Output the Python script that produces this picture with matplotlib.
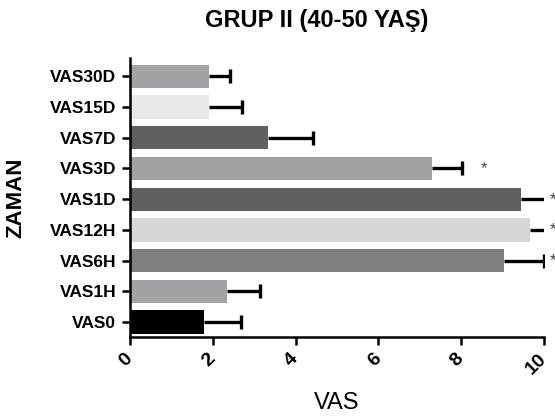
import matplotlib
matplotlib.use("Agg")
import matplotlib.pyplot as plt
import numpy as np

categories = ["VAS0", "VAS1H", "VAS6H", "VAS12H", "VAS1D", "VAS3D", "VAS7D", "VAS15D", "VAS30D"]
means = [1.78, 2.34, 9.04, 9.65, 9.44, 7.30, 3.34, 1.91, 1.91]
errors = [0.90, 0.81, 0.96, 0.65, 0.80, 0.72, 1.07, 0.79, 0.51]
colors = ["#000000", "#a3a3a7", "#7f7f7f", "#d6d6d6", "#606060",
          "#a3a3a7", "#606060", "#e8e8e8", "#a3a3a7"]
stars = ["", "", "*", "*", "*", "*", "", "", ""]

plt.rcParams['font.family'] = ['Liberation Sans', 'DejaVu Sans']

fig = plt.figure(figsize=(5.55, 4.19), dpi=100)
ax = fig.add_axes([130/555, 1-337/419, 414/555, (337-58)/419])

y = np.arange(len(categories))
ax.barh(y, means, height=0.76, color=colors, edgecolor='none', zorder=2)
eb = ax.errorbar(means, y, xerr=[np.zeros(len(means)), errors], fmt='none',
                 ecolor='black', elinewidth=2.4, capsize=5, capthick=2.4, zorder=3)
# one-sided error bars: hide the cap at the bar end
eb[1][0].set_visible(False)

for yi, (m, e, s) in enumerate(zip(means, errors, stars)):
    if s:
        xs = min(m + e + 0.45, 10.14)
        ax.text(xs, yi, s, ha='left', va='center', fontsize=12, color='#444444',
                clip_on=False)

ax.set_xlim(0, 10)
ax.set_ylim(-0.49, 8.6)
ax.set_yticks(y)
ax.set_yticklabels(categories, fontsize=12.5, fontweight='bold')
ax.set_xticks([0, 2, 4, 6, 8, 10])
ax.set_xticklabels(['0', '2', '4', '6', '8', '10'], rotation=45, fontsize=14,
                   fontweight='bold', ha='right', va='center',
                   rotation_mode='anchor')
for sp in ['top', 'right']:
    ax.spines[sp].set_visible(False)
for sp in ['left', 'bottom']:
    ax.spines[sp].set_linewidth(1.8)
ax.tick_params(axis='both', width=1.8, length=6)
ax.tick_params(axis='x', pad=8)
ax.tick_params(axis='y', pad=4)

ax.set_xlabel('VAS', fontsize=17, labelpad=10)
ax.set_ylabel('ZAMAN', fontsize=16, fontweight='bold')
ax.yaxis.set_label_coords(-0.25, 0.5)
fig.text(317/555, 1-20/419, 'GRUP II (40-50 YAŞ)', ha='center', va='center',
         fontsize=17, fontweight='bold')

fig.savefig('out.png', dpi=100)
